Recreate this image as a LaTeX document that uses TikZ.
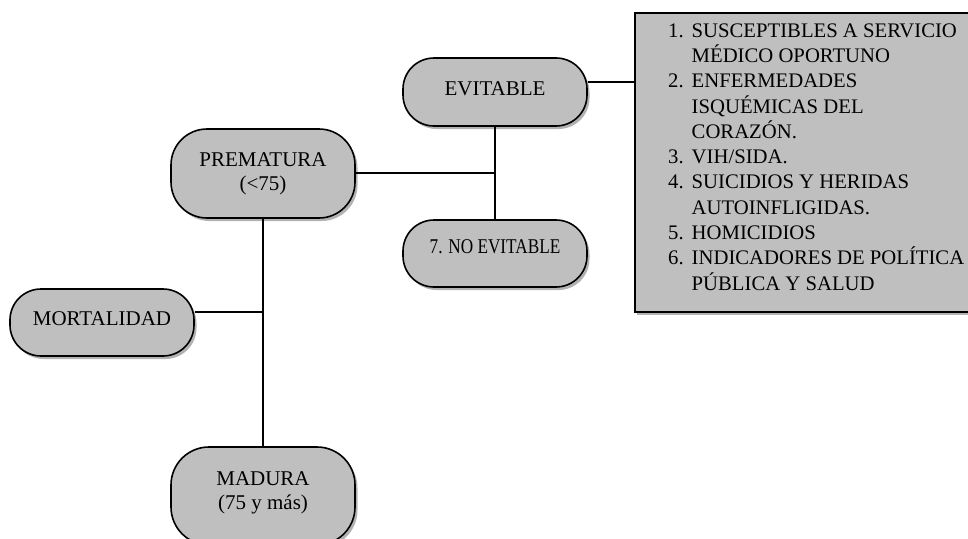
\documentclass[tikz,border=0pt]{standalone}
\usepackage{fontspec}
\setmainfont{Liberation Serif}
\usetikzlibrary{shadows}
\definecolor{boxgray}{HTML}{BFBFBF}
\tikzset{
  pill/.style={draw=black, line width=1.6pt, fill=boxgray, rounded corners=#1,
    minimum width=184pt, inner sep=0pt, align=center,
    font=\fontsize{21}{24}\selectfont,
    drop shadow={shadow xshift=2.5pt, shadow yshift=-3pt, fill=black, opacity=0.3}},
  pill/.default=31pt,
  conn/.style={line width=2.2pt, draw=black},
}
\begin{document}
\begin{tikzpicture}[x=1pt, y=-1pt]
\useasboundingbox (0,0) rectangle (968,538);
% right list box
\node[draw=black, line width=1.6pt, fill=boxgray, minimum width=350pt, minimum height=299pt,
  anchor=north west, inner sep=0pt,
  drop shadow={shadow xshift=2.5pt, shadow yshift=-3pt, fill=black, opacity=0.3}] (list) at (634,12) {};
\node[anchor=base west, inner sep=0pt, font=\fontsize{20.7}{25.3}\selectfont] (listtext) at (668,37) {%
  \begin{tabular}[t]{@{}l@{\hspace{8pt}}l@{}}
  1. & SUSCEPTIBLES A SERVICIO\\
     & MÉDICO OPORTUNO\\
  2. & ENFERMEDADES\\
     & ISQUÉMICAS DEL\\
     & CORAZÓN.\\
  3. & VIH/SIDA.\\
  4. & SUICIDIOS Y HERIDAS\\
     & AUTOINFLIGIDAS.\\
  5. & HOMICIDIOS\\
  6. & INDICADORES DE POLÍTICA\\
     & PÚBLICA Y SALUD
  \end{tabular}};
% pills
\node[pill, minimum height=68pt, text height=14pt, text depth=7.5pt] (evit) at (495,92) {EVITABLE};
\node[pill=36pt, minimum height=89pt] (prem) at (263,173.5) {PREMATURA\\(<75)};
\node[pill, minimum height=67pt, text height=14pt, text depth=14pt] (noevit) at (495,253.5) {\scalebox{0.82}[1]{7. NO EVITABLE}};
\node[pill, minimum height=67pt, text height=14pt, text depth=7.5pt] (mort) at (102,322.5) {MORTALIDAD};
\node[pill=38pt, minimum height=98pt, text depth=10pt] (mad) at (263,496) {MADURA\\(75 y más)};
% connectors
\coordinate (j1) at (495,173);
\coordinate (j2) at (263,312);
\coordinate (j3) at (634,82);
\draw[conn] (evit.south) -- (noevit.north);
\draw[conn] (prem.east |- j1) -- (j1);
\draw[conn] (prem.south) -- (mad.north);
\draw[conn] (mort.east |- j2) -- (j2);
\draw[conn] (evit.east |- j3) -- (j3);
\end{tikzpicture}
\end{document}
